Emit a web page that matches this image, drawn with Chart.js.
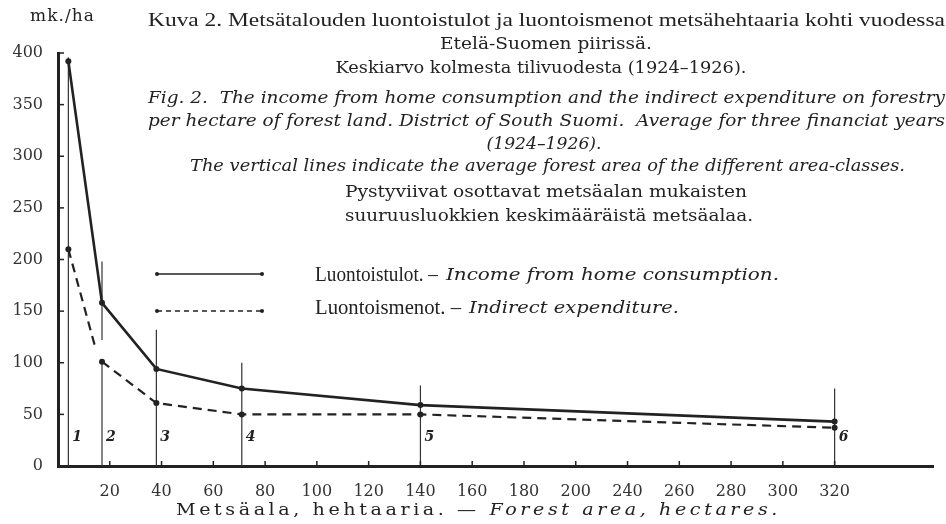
<!DOCTYPE html>
<html>
<head>
<meta charset="utf-8">
<script src="https://cdn.jsdelivr.net/npm/chart.js@4/dist/chart.umd.min.js"></script>
<style>
  body { margin: 0; background: #fff; }
  #chart { display: block; }
</style>
</head>
<body>
<canvas id="chart" width="946" height="524"></canvas>
<script>
// Data (mk./ha against forest area in hectares)
const tickLabels = [20, 40, 60, 80, 100, 120, 140, 160, 180, 200, 240, 260, 280, 300, 320];
const areaClasses = ['1', '2', '3', '4', '5', '6'];
const forestArea = [4, 17, 38, 71, 140, 320];
const incomePerHa = [392, 158, 94, 75, 59, 43];
const expenditurePerHa = [210, 101, 61, 50, 50, 37];
// the dashed stroke out of class 1 stops short of class 2 in the print
const expenditureBreak = [14.5, 114];
// how high each vertical class line is drawn, and where line 2 is broken
const classLineTops = [396, 198, 132, 100, 78, 75];
const classLineBreaks = [null, [101, 122], null, null, null, null];
const classLabelValue = 28;

const INK = '#222';

// The printed axis goes 200 -> 240 with even tick spacing, so anything
// above 200 sits 20 units to the left of where a linear scale would put it.
function axisPos(ha) {
    return ha > 200 ? ha - 20 : ha;
}

const tickPositions = tickLabels.map(axisPos);

// Build datasets
const incomeData = forestArea.map((a, i) => ({ x: axisPos(a), y: incomePerHa[i] }));

const expenditureData = [
    { x: axisPos(forestArea[0]), y: expenditurePerHa[0] },
    { x: expenditureBreak[0], y: expenditureBreak[1] },
    { x: expenditureBreak[0] + 1, y: null }
].concat(forestArea.slice(1).map((a, i) => ({ x: axisPos(a), y: expenditurePerHa[i + 1] })));
const expenditureRadius = expenditureData.map((p, i) => (i === 1 || i === 2) ? 0 : 3);

const classLineData = [];
forestArea.forEach((a, i) => {
    const x = axisPos(a);
    classLineData.push({ x: x, y: 0 });
    if (classLineBreaks[i]) {
        classLineData.push({ x: x, y: classLineBreaks[i][0] });
        classLineData.push({ x: x, y: null });
        classLineData.push({ x: x, y: classLineBreaks[i][1] });
    }
    classLineData.push({ x: x, y: classLineTops[i] });
    classLineData.push({ x: x, y: null });
});

// Draw text squeezed/stretched to the width it has in the print
function fitText(ctx, text, x, y, font, width, align) {
    ctx.font = font;
    const w = ctx.measureText(text).width;
    ctx.save();
    ctx.translate(x, y);
    ctx.scale(width / w, 1);
    ctx.textAlign = align || 'left';
    ctx.fillText(text, 0, 0);
    ctx.restore();
}

const titleLines = [
    { text: 'Kuva 2. Metsätalouden luontoistulot ja luontoismenot metsähehtaaria kohti vuodessa', font: '19px "Liberation Serif"', x: 148, y: 21, w: 797 },
    { text: 'Etelä-Suomen piirissä.', font: '16px "DejaVu Serif"', x: 546, y: 45, w: 212, align: 'center' },
    { text: 'Keskiarvo kolmesta tilivuodesta (1924–1926).', font: '16px "DejaVu Serif"', x: 541, y: 69, w: 411, align: 'center' },
    { text: 'Fig. 2.  The income from home consumption and the indirect expenditure on forestry', font: 'italic 16px "DejaVu Serif"', x: 148, y: 99, w: 797 },
    { text: 'per hectare of forest land. District of South Suomi.  Average for three financiat years', font: 'italic 16px "DejaVu Serif"', x: 148, y: 122, w: 797 },
    { text: '(1924–1926).', font: 'italic 16px "DejaVu Serif"', x: 544, y: 145, w: 115, align: 'center' },
    { text: 'The vertical lines indicate the average forest area of the different area-classes.', font: 'italic 16px "DejaVu Serif"', x: 190, y: 167, w: 715 },
    { text: 'Pystyviivat osottavat metsäalan mukaisten', font: '16px "DejaVu Serif"', x: 546, y: 193, w: 402, align: 'center' },
    { text: 'suuruusluokkien keskimääräistä metsäalaa.', font: '16px "DejaVu Serif"', x: 549, y: 217, w: 408, align: 'center' }
];

const paperText = {
    id: 'paperText',
    afterDraw(chart) {
        const ctx = chart.ctx;
        const xs = chart.scales.x;
        const ys = chart.scales.y;
        const area = chart.chartArea;
        ctx.save();
        ctx.fillStyle = INK;
        ctx.strokeStyle = INK;
        ctx.textBaseline = 'middle';

        // small tick marks on the inside of both axes
        ctx.lineWidth = 1.5;
        ys.ticks.forEach(t => {
            if (t.value === 0) return;
            const py = ys.getPixelForValue(t.value);
            ctx.beginPath();
            ctx.moveTo(area.left, py);
            ctx.lineTo(area.left + 6, py);
            ctx.stroke();
        });
        tickPositions.forEach(v => {
            const px = xs.getPixelForValue(v);
            ctx.beginPath();
            ctx.moveTo(px, area.bottom);
            ctx.lineTo(px, area.bottom - 5);
            ctx.stroke();
        });

        // area-class numbers next to the vertical lines
        ctx.font = 'italic bold 14px "DejaVu Serif"';
        ctx.textAlign = 'left';
        areaClasses.forEach((c, i) => {
            const px = xs.getPixelForValue(axisPos(forestArea[i]));
            ctx.fillText(c, px + 4, ys.getPixelForValue(classLabelValue));
        });

        // legend
        ctx.lineWidth = 1.5;
        ctx.beginPath();
        ctx.moveTo(157, 274);
        ctx.lineTo(262, 274);
        ctx.stroke();
        ctx.setLineDash([5, 4]);
        ctx.beginPath();
        ctx.moveTo(157, 311);
        ctx.lineTo(262, 311);
        ctx.stroke();
        ctx.setLineDash([]);
        [[157, 274], [262, 274], [157, 311], [262, 311]].forEach(p => {
            ctx.beginPath();
            ctx.arc(p[0], p[1], 2, 0, Math.PI * 2);
            ctx.fill();
        });
        fitText(ctx, 'Luontoistulot. –', 315, 276, '20px "Liberation Serif"', 123);
        fitText(ctx, 'Income from home consumption.', 446, 276, 'italic 16px "DejaVu Serif"', 333);
        fitText(ctx, 'Luontoismenot. –', 315, 309, '20px "Liberation Serif"', 146);
        fitText(ctx, 'Indirect expenditure.', 469, 309, 'italic 16px "DejaVu Serif"', 210);

        // titles
        titleLines.forEach(l => fitText(ctx, l.text, l.x, l.y, l.font, l.w, l.align));

        // axis titles
        ctx.letterSpacing = '1px';
        fitText(ctx, 'mk./ha', 30, 17, '16px "DejaVu Serif"', 65);
        ctx.letterSpacing = '3px';
        ctx.font = '16px "DejaVu Serif"';
        const part1 = 'Metsäala, hehtaaria. — ';
        const w1 = ctx.measureText(part1).width;
        ctx.font = 'italic 16px "DejaVu Serif"';
        const part2 = 'Forest area, hectares.';
        const w2 = ctx.measureText(part2).width;
        const s = 605 / (w1 + w2);
        ctx.save();
        ctx.translate(176, 511);
        ctx.scale(s, 1);
        ctx.font = '16px "DejaVu Serif"';
        ctx.fillText(part1, 0, 0);
        ctx.font = 'italic 16px "DejaVu Serif"';
        ctx.fillText(part2, w1, 0);
        ctx.restore();
        ctx.letterSpacing = '0px';

        ctx.restore();
    }
};

const ctx = document.getElementById('chart').getContext('2d');

new Chart(ctx, {
    type: 'line',
    data: {
        datasets: [
            {
                label: 'Luontoistulot. – Income from home consumption.',
                data: incomeData,
                borderColor: INK,
                backgroundColor: INK,
                borderWidth: 2.6,
                pointRadius: 3,
                pointBackgroundColor: INK,
                pointBorderWidth: 0,
                tension: 0
            },
            {
                label: 'Luontoismenot. – Indirect expenditure.',
                data: expenditureData,
                borderColor: INK,
                backgroundColor: INK,
                borderWidth: 2.2,
                borderDash: [9, 6],
                pointRadius: expenditureRadius,
                pointBackgroundColor: INK,
                pointBorderWidth: 0,
                spanGaps: false,
                tension: 0
            },
            {
                label: 'Pystyviivat',
                data: classLineData,
                borderColor: '#333',
                borderWidth: 1.2,
                pointRadius: 0,
                spanGaps: false
            }
        ]
    },
    options: {
        responsive: false,
        animation: false,
        clip: false,
        layout: { padding: { top: 53, right: 13, left: 0, bottom: 0 } },
        plugins: {
            legend: { display: false },
            tooltip: { enabled: false },
            title: { display: false }
        },
        scales: {
            x: {
                type: 'linear',
                min: 0,
                max: 338,
                afterFit: scale => { scale.height = 58; },
                afterBuildTicks: scale => {
                    scale.ticks = tickPositions.map(v => ({ value: v }));
                },
                grid: { display: false },
                border: { display: true, color: INK, width: 3 },
                ticks: {
                    autoSkip: false,
                    maxRotation: 0,
                    padding: 8,
                    color: '#333',
                    font: { family: 'DejaVu Serif', size: 16 },
                    callback: (value, index) => tickLabels[index]
                }
            },
            y: {
                min: 0,
                max: 400,
                afterFit: scale => { scale.width = 58; },
                grid: { display: false },
                border: { display: true, color: INK, width: 3 },
                ticks: {
                    stepSize: 50,
                    padding: 7,
                    color: '#333',
                    font: { family: 'DejaVu Serif', size: 16 }
                }
            }
        }
    },
    plugins: [paperText]
});
</script>
</body>
</html>
